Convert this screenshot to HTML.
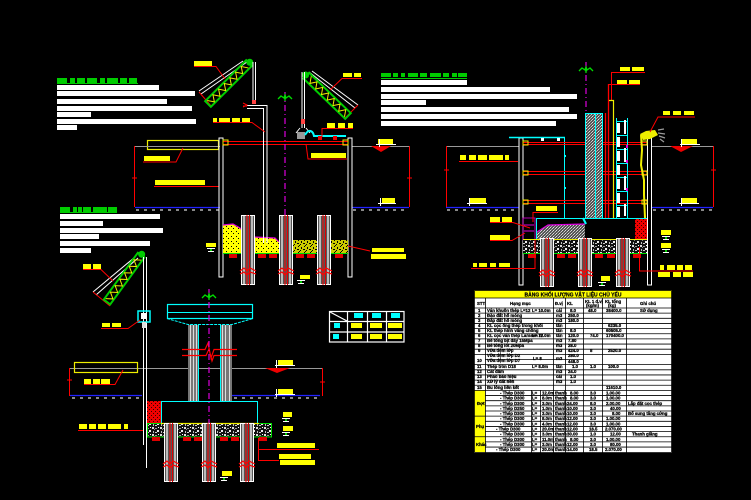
<!DOCTYPE html>
<html><head><meta charset="utf-8"><style>
html,body{margin:0;padding:0;background:#000;width:751px;height:500px;overflow:hidden;}
svg{display:block;}
</style></head><body>
<svg width="751" height="500" viewBox="0 0 751 500" xmlns="http://www.w3.org/2000/svg" xmlns:xlink="http://www.w3.org/1999/xlink" font-family="Liberation Sans, sans-serif">
<defs>
 <pattern id="grav" width="8" height="7" patternUnits="userSpaceOnUse">
  <rect width="8" height="7" fill="#111"/>
  <rect x="0" y="0" width="2" height="2" fill="#ddd"/>
  <rect x="3" y="1" width="2" height="1" fill="#999"/>
  <rect x="5" y="3" width="2" height="2" fill="#eee"/>
  <rect x="1" y="4" width="1" height="2" fill="#bbb"/>
  <rect x="6" y="0" width="1" height="1" fill="#fff"/>
  <rect x="3" y="5" width="2" height="1" fill="#ccc"/>
  <rect x="2" y="2" width="1" height="1" fill="#888"/>
 </pattern>
 <pattern id="ygrav" width="6" height="6" patternUnits="userSpaceOnUse">
  <rect width="6" height="6" fill="#cc0"/>
  <rect x="1" y="1" width="1" height="2" fill="#000"/>
  <rect x="4" y="0" width="1" height="1" fill="#000"/>
  <rect x="3" y="3" width="2" height="1" fill="#000"/>
  <rect x="0" y="4" width="1" height="1" fill="#000"/>
  <rect x="5" y="5" width="1" height="1" fill="#000"/>
 </pattern>
 <pattern id="ysoil" width="5" height="5" patternUnits="userSpaceOnUse">
  <rect width="5" height="5" fill="#ff0"/>
  <rect x="1" y="1" width="1" height="1" fill="#000"/>
  <rect x="3" y="3" width="1" height="1" fill="#000"/>
 </pattern>
 <pattern id="hatch" width="3" height="3" patternUnits="userSpaceOnUse">
  <rect width="3" height="3" fill="#555"/>
  <rect x="0" y="0" width="1" height="1" fill="#ccc"/>
  <rect x="2" y="1" width="1" height="1" fill="#aaa"/>
  <rect x="1" y="2" width="1" height="1" fill="#ddd"/>
 </pattern>
 <pattern id="redf" width="4" height="4" patternUnits="userSpaceOnUse">
  <rect width="4" height="4" fill="#e00"/>
  <rect x="1" y="1" width="1" height="1" fill="#300"/>
  <rect x="3" y="3" width="1" height="1" fill="#300"/>
 </pattern>
 <g id="boom">
  <rect x="0" y="-4" width="58" height="8" fill="none" stroke="#0c0" stroke-width="2"/>
  <polyline points="2,-3 6,3 10,-3 14,3 18,-3 22,3 26,-3 30,3 34,-3 38,3 42,-3 46,3 50,-3 54,3" fill="none" stroke="#ee0" stroke-width="1"/>
  <circle cx="59" cy="0" r="3.5" fill="#0c0"/>
 </g>
 <g id="palm">
  <path d="M-7,3 L-4,0 L-1,2 L0,-1 L1,2 L4,0 L7,3 M0,-1 L0,5" fill="none" stroke="#0d0" stroke-width="1.3"/>
 </g>
 <g id="mark">
  <path d="M0,0.5h8M4,0.5v3M1,3.5h6" stroke="#fff" stroke-width="1" fill="none"/>
  <rect x="3" y="1" width="2" height="2" fill="#0c0"/>
 </g>
 <g id="pileA">
  <rect x="0.5" y="0.5" width="13" height="69" fill="#555" stroke="#fff"/>
  <rect x="2" y="1" width="2" height="68" fill="#bbb"/>
  <rect x="10" y="1" width="2" height="68" fill="#bbb"/>
  <line x1="6" y1="0" x2="6" y2="70" stroke="#f00"/>
  <line x1="8.5" y1="0" x2="8.5" y2="70" stroke="#d00"/>
  <polyline points="-1,56 3,53 6,56 9,53 15,56" fill="none" stroke="#f00" stroke-width="1.2"/>
  <polyline points="-1,59 3,57 6,60 9,57 15,59" fill="none" stroke="#f00" stroke-width="1.2"/>
 </g>
 <g id="pileB">
  <rect x="0.5" y="0.5" width="13" height="48" fill="#555" stroke="#fff"/>
  <rect x="2" y="1" width="2" height="47" fill="#bbb"/>
  <rect x="10" y="1" width="2" height="47" fill="#bbb"/>
  <line x1="6" y1="0" x2="6" y2="49" stroke="#f00"/>
  <line x1="8.5" y1="0" x2="8.5" y2="49" stroke="#d00"/>
  <polyline points="-1,35 3,32 6,35 9,32 15,35" fill="none" stroke="#f00" stroke-width="1.2"/>
  <polyline points="-1,38 3,36 6,39 9,36 15,38" fill="none" stroke="#f00" stroke-width="1.2"/>
 </g>
 <g id="pileC">
  <rect x="0.5" y="0.5" width="13" height="58" fill="#555" stroke="#fff"/>
  <rect x="2" y="1" width="2" height="57" fill="#bbb"/>
  <rect x="10" y="1" width="2" height="57" fill="#bbb"/>
  <line x1="6" y1="0" x2="6" y2="59" stroke="#f00"/>
  <line x1="8.5" y1="0" x2="8.5" y2="59" stroke="#d00"/>
  <polyline points="-1,41 3,38 6,41 9,38 15,41" fill="none" stroke="#f00" stroke-width="1.2"/>
  <polyline points="-1,44 3,42 6,45 9,42 15,44" fill="none" stroke="#f00" stroke-width="1.2"/>
 </g>
</defs>

<rect width="751" height="500" fill="#000"/>

<!-- ===== NOTES BLOCKS ===== -->
<g fill="#0c0">
 <rect x="57" y="78" width="10" height="5"/><rect x="70" y="78" width="5" height="5"/><rect x="77" y="78" width="8" height="5"/><rect x="87" y="78" width="10" height="5"/><rect x="100" y="78" width="5" height="5"/><rect x="107" y="78" width="11" height="5"/><rect x="120" y="78" width="7" height="5"/><rect x="129" y="78" width="8" height="5"/>
 <rect x="57" y="83" width="81" height="1"/>
 <rect x="60" y="207" width="10" height="5"/><rect x="73" y="207" width="4" height="5"/><rect x="78" y="207" width="4" height="5"/><rect x="83" y="207" width="8" height="5"/><rect x="93" y="207" width="14" height="5"/><rect x="108" y="207" width="9" height="5"/>
 <rect x="60" y="212" width="57" height="1"/>
 <rect x="381" y="73" width="10" height="4"/><rect x="393" y="73" width="5" height="4"/><rect x="401" y="73" width="4" height="4"/><rect x="408" y="73" width="10" height="4"/><rect x="420" y="73" width="7" height="4"/><rect x="430" y="73" width="11" height="4"/><rect x="443" y="73" width="6" height="4"/><rect x="452" y="73" width="5" height="4"/><rect x="458" y="73" width="9" height="4"/>
 <rect x="381" y="78" width="86" height="1"/>
</g>
<g fill="#fff">
 <rect x="57" y="85" width="102" height="5"/><rect x="57" y="91" width="138" height="5"/><rect x="57" y="99" width="110" height="5"/><rect x="57" y="106" width="135" height="5"/><rect x="57" y="112" width="34" height="5"/><rect x="57" y="119" width="139" height="5"/><rect x="57" y="125" width="20" height="5"/>
 <rect x="60" y="214" width="100" height="5"/><rect x="60" y="221" width="43" height="5"/><rect x="60" y="228" width="103" height="5"/><rect x="60" y="234" width="39" height="5"/><rect x="60" y="241" width="90" height="5"/><rect x="60" y="248" width="31" height="5"/>
 <rect x="381" y="80" width="86" height="5"/><rect x="381" y="87" width="169" height="5"/><rect x="381" y="94" width="196" height="5"/><rect x="381" y="100" width="45" height="5"/><rect x="381" y="107" width="188" height="5"/><rect x="381" y="114" width="196" height="5"/><rect x="381" y="121" width="175" height="5"/>
</g>

<!-- ===== LEFT TOP SECTION ===== -->
<line x1="135" y1="146.5" x2="220" y2="146.5" stroke="#999"/>
<line x1="352" y1="146.5" x2="409" y2="146.5" stroke="#999"/>
<path d="M134.5,146 V207 M409.5,146 V207" stroke="#f00"/>
<path d="M132,178h5 M407,178h5" stroke="#f00"/>
<line x1="135" y1="207.5" x2="220" y2="207.5" stroke="#22f" stroke-width="1.2"/>
<line x1="352" y1="207.5" x2="409" y2="207.5" stroke="#22f" stroke-width="1.2"/>
<line x1="136" y1="210" x2="220" y2="210" stroke="#888" stroke-width="2" stroke-dasharray="3 5"/>
<line x1="353" y1="210" x2="409" y2="210" stroke="#888" stroke-width="2" stroke-dasharray="3 5"/>
<polygon points="371,146 391,146 381,152" fill="#e00"/>
<rect x="378" y="139" width="15" height="5" fill="#ff0"/>
<path d="M376,144.5h20 M379.5,139v8" stroke="#fff"/>
<rect x="147.5" y="140.5" width="71" height="9" fill="none" stroke="#ee0" stroke-width="1.2"/>
<line x1="147" y1="146.5" x2="218" y2="146.5" stroke="#999"/>
<path d="M183,148 L176,162 L143,162" fill="none" stroke="#f00"/>
<rect x="144" y="156" width="26" height="5" fill="#ff0"/>
<rect x="155" y="180" width="50" height="5" fill="#ff0"/>
<path d="M154,186.5 H219" stroke="#f00"/>
<rect x="219" y="138" width="4" height="139" fill="none" stroke="#fff" stroke-width="1"/>
<rect x="348" y="138" width="4" height="139" fill="none" stroke="#fff" stroke-width="1"/>
<path d="M223,141.5H348 M223,144.5H348" stroke="#f00"/>
<rect x="223" y="140" width="5" height="5" fill="none" stroke="#ee0"/>
<rect x="343" y="140" width="5" height="5" fill="none" stroke="#ee0"/>
<line x1="285" y1="92" x2="285" y2="216" stroke="#d0d" stroke-width="1.2" stroke-dasharray="6 3 1 3"/>
<use xlink:href="#palm" transform="translate(285,96)"/>
<path d="M223,225 L233,224 L240,228 L247,235 L255,237 L275,238 L279,242 L279,253 L223,253 Z" fill="url(#ysoil)"/>
<path d="M223,225 L233,224 L240,228 L247,235 L255,237 L275,238 L279,242" fill="none" stroke="#d0d" stroke-width="1.2"/>
<rect x="293" y="240" width="55" height="13" fill="url(#ygrav)"/>
<line x1="223" y1="253.5" x2="348" y2="253.5" stroke="#0d0"/>
<g fill="#d00"><rect x="229" y="254" width="8" height="4"/><rect x="258" y="254" width="8" height="4"/><rect x="269" y="254" width="8" height="4"/><rect x="296" y="254" width="8" height="4"/><rect x="307" y="254" width="8" height="4"/><rect x="335" y="254" width="8" height="4"/></g>
<use xlink:href="#pileA" x="241" y="215"/>
<use xlink:href="#pileA" x="279" y="215"/>
<use xlink:href="#pileA" x="317" y="215"/>
<rect x="206" y="243" width="10" height="4" fill="#ff0"/><use xlink:href="#mark" x="207" y="248"/>
<rect x="300" y="275" width="10" height="4" fill="#ff0"/><use xlink:href="#mark" x="297" y="280"/>
<path d="M348,246 L370,251" stroke="#f00"/>
<rect x="372" y="248" width="32" height="4" fill="#ff0"/>
<rect x="371" y="254" width="35" height="5" fill="#ff0"/>
<path d="M199,91 L243,61 M201,94 L247,62" stroke="#fff" stroke-width="1"/>
<path d="M199,92 L212,107" stroke="#f00"/>
<use xlink:href="#boom" transform="translate(208,104) rotate(-45)"/>
<path d="M253,62 V102 M255.5,62 V102" stroke="#fff"/>
<rect x="252" y="100" width="4" height="4" fill="#f44"/>
<path d="M247,105.5 H267 M247,108.5 H263.5 M263.5,108 V243 M267,105 V243" stroke="#fff" fill="none"/>
<path d="M243,103 l4,2 l-4,2 M243,106 h4" stroke="#f00" fill="none"/>
<rect x="194" y="61" width="18" height="5" fill="#ff0"/>
<path d="M194,66.5 H216 L225,79" stroke="#f00" fill="none"/>
<g fill="#ff0"><rect x="213" y="118" width="4" height="4"/><rect x="219" y="118" width="11" height="4"/><rect x="232" y="118" width="8" height="4"/><rect x="242" y="118" width="8" height="4"/></g>
<path d="M213,122.5 H252 L265,132" stroke="#f00" fill="none"/>
<path d="M312,71 L358,105 M309,72 L355,108" stroke="#fff"/>
<path d="M358,105 L345,118" stroke="#f00"/>
<use xlink:href="#boom" transform="translate(348,116) rotate(-136)"/>
<path d="M302,72 V128 M304.5,72 V128" stroke="#fff"/>
<rect x="301" y="119" width="4" height="5" fill="#f44"/>
<path d="M300,128 l-4,5 M306,128 l4,5" stroke="#fff"/>
<rect x="297" y="132" width="8" height="7" fill="#999"/>
<path d="M305,135 C309,128 313,131 314,136 L346,136" fill="none" stroke="#0ff" stroke-width="2"/>
<rect x="318" y="136" width="4" height="4" fill="#e00"/><rect x="333" y="136" width="4" height="4" fill="#e00"/>
<g fill="#ff0"><rect x="343" y="73" width="9" height="4"/><rect x="354" y="73" width="7" height="4"/></g>
<path d="M362,78.5 H342 L330,90" stroke="#f00" fill="none"/>
<g fill="#ff0"><rect x="327" y="123" width="8" height="5"/><rect x="338" y="123" width="7" height="5"/><rect x="348" y="123" width="5" height="5"/></g>
<path d="M353,128.5 H322 V137" stroke="#f00" fill="none"/>
<rect x="311" y="153" width="35" height="5" fill="#ff0"/>
<path d="M306,144 L308,159 H347" stroke="#f00" fill="none"/>

<!-- ===== RIGHT TOP SECTION ===== -->
<line x1="446" y1="146.5" x2="519" y2="146.5" stroke="#999"/>
<line x1="652" y1="146.5" x2="713" y2="146.5" stroke="#999"/>
<path d="M446.5,146 V207 M713.5,146 V207" stroke="#f00"/>
<path d="M444,170h5 M711,170h5" stroke="#f00"/>
<line x1="446" y1="207.5" x2="519" y2="207.5" stroke="#22f" stroke-width="1.2"/>
<line x1="652" y1="207.5" x2="713" y2="207.5" stroke="#22f" stroke-width="1.2"/>
<line x1="447" y1="210" x2="519" y2="210" stroke="#888" stroke-width="2" stroke-dasharray="3 5"/>
<line x1="653" y1="210" x2="713" y2="210" stroke="#888" stroke-width="2" stroke-dasharray="3 5"/>
<polygon points="670,146 693,146 681,152" fill="#e00"/>
<rect x="682" y="139" width="15" height="5" fill="#ff0"/>
<path d="M680,144.5h20 M681.5,139v8" stroke="#fff"/>
<rect x="382" y="198" width="13" height="5" fill="#ff0"/><path d="M378,203.5h18 M380.5,198v8" stroke="#fff"/>
<rect x="470" y="198" width="16" height="5" fill="#ff0"/><path d="M467,203.5h20 M469.5,198v8" stroke="#fff"/>
<rect x="682" y="198" width="15" height="5" fill="#ff0"/><path d="M679,203.5h20 M681.5,198v8" stroke="#fff"/>
<g fill="#ff0"><rect x="460" y="155" width="6" height="5"/><rect x="469" y="155" width="7" height="5"/><rect x="478" y="155" width="9" height="5"/><rect x="489" y="155" width="14" height="5"/><rect x="505" y="155" width="4" height="5"/></g>
<path d="M459,161.5 H518" stroke="#f00"/>
<rect x="519" y="138" width="4" height="147" fill="none" stroke="#fff"/>
<rect x="647.5" y="138" width="4" height="147" fill="none" stroke="#fff"/>
<line x1="509" y1="137.5" x2="565" y2="137.5" stroke="#0ff" stroke-width="1.5"/>
<rect x="541" y="138" width="3" height="3" fill="#fff"/><rect x="557" y="138" width="3" height="3" fill="#fff"/>
<line x1="564.5" y1="138" x2="564.5" y2="218" stroke="#0ff"/>
<g fill="#0ff"><rect x="564" y="155" width="2" height="2"/><rect x="564" y="187" width="2" height="2"/></g>
<path d="M523,142.5H647 M523,144.5H647 M523,171.5H647 M523,174.5H647 M523,200.5H647 M523,203.5H647" stroke="#f00"/>
<g fill="none" stroke="#ee0"><rect x="523" y="141" width="5" height="4"/><rect x="523" y="171" width="5" height="4"/><rect x="523" y="200" width="5" height="4"/><rect x="642" y="141" width="5" height="4"/><rect x="642" y="171" width="5" height="4"/><rect x="642" y="200" width="5" height="4"/></g>
<rect x="585" y="113" width="18" height="105" fill="url(#hatch)"/>
<path d="M585,113.5 H603 M585.5,113 V218 M595.5,113 V218 M602.5,113 V218" stroke="#0ff"/>
<path d="M605.5,113 V218 M608.5,84 V218" stroke="#f00" stroke-width="1.3"/>
<path d="M611.5,72 V100" stroke="#f00"/>
<path d="M609,100.5 H613.5 V218" stroke="#ee0" stroke-width="1.2" fill="none"/>
<line x1="586" y1="62" x2="586" y2="113" stroke="#d0d" stroke-width="1.2" stroke-dasharray="6 3 1 3"/>
<use xlink:href="#palm" transform="translate(586,68)"/>
<g stroke="#0ff" fill="none">
 <path d="M616.5,118 V218 M627.5,118 V218"/>
 <path d="M616,121.5H627 M616,135.5H627 M616,149.5H627 M616,163.5H627 M616,177.5H627 M616,191.5H627 M616,205.5H627"/>
</g>
<g fill="#fff"><rect x="617" y="123" width="3" height="10"/><rect x="617" y="137" width="3" height="10"/><rect x="617" y="151" width="3" height="10"/><rect x="617" y="165" width="3" height="10"/><rect x="617" y="179" width="3" height="10"/><rect x="617" y="193" width="3" height="10"/><rect x="617" y="207" width="3" height="10"/>
<rect x="624" y="120" width="2" height="14"/><rect x="624" y="148" width="2" height="14"/><rect x="624" y="176" width="2" height="14"/><rect x="624" y="204" width="2" height="12"/></g>
<g fill="#d0d"><rect x="626" y="145" width="2" height="3"/><rect x="626" y="160" width="2" height="3"/><rect x="626" y="188" width="2" height="3"/></g>
<path d="M641,135 L642,150 L641,165 L644,180 L644,195 L645,218" fill="none" stroke="#ee0" stroke-width="2"/>
<path d="M640,134 L646,131 L655,130 L658,135 L650,139 L643,140 Z" fill="#ee0"/>
<path d="M658,130 l6,-1 M658,133 l7,1 M659,136 l6,2 M660,139 l4,3" stroke="#999" stroke-width="1.2"/>
<path d="M650,132 L658,117 H695" stroke="#f00" fill="none"/>
<g fill="#ff0"><rect x="663" y="111" width="7" height="4"/><rect x="673" y="111" width="8" height="4"/><rect x="684" y="111" width="10" height="4"/></g>
<g fill="#ff0"><rect x="620" y="67" width="10" height="4"/><rect x="632" y="67" width="12" height="4"/></g>
<path d="M611,72.5 H645" stroke="#f00"/>
<g fill="#ff0"><rect x="617" y="80" width="10" height="4"/><rect x="629" y="80" width="11" height="4"/></g>
<path d="M608,84.5 H640" stroke="#f00"/>
<path d="M537,232 L548,225 L585,224 L585,240 L537,240 Z" fill="url(#hatch)"/>
<path d="M537,232 L548,225 L585,224" fill="none" stroke="#d0d" stroke-width="1.2"/>
<rect x="536.5" y="218.5" width="110" height="21.5" fill="none" stroke="#0ff"/>
<rect x="635" y="219" width="12" height="21" fill="url(#redf)"/>
<path d="M583,218 L586,224" stroke="#0ff" stroke-width="2"/>
<rect x="523" y="218" width="12" height="22" fill="none" stroke="#d0d" stroke-width="0.8"/>
<path d="M524,225h10 M524,231h10" stroke="#d0d"/>
<rect x="523" y="240" width="124" height="13" fill="url(#grav)"/>
<line x1="523" y1="239.5" x2="647" y2="239.5" stroke="#ee0"/>
<line x1="523" y1="253.5" x2="647" y2="253.5" stroke="#0d0"/>
<g fill="#d00"><rect x="528" y="254" width="8" height="4"/><rect x="557" y="254" width="8" height="4"/><rect x="568" y="254" width="8" height="4"/><rect x="595" y="254" width="8" height="4"/><rect x="607" y="254" width="8" height="4"/><rect x="633" y="254" width="8" height="4"/></g>
<use xlink:href="#pileB" x="540" y="238"/>
<use xlink:href="#pileB" x="578" y="238"/>
<use xlink:href="#pileB" x="616" y="238"/>
<rect x="536" y="206" width="21" height="5" fill="#ff0"/>
<path d="M533,212.5 H558 M533,212 V222" stroke="#f00" fill="none"/>
<g fill="#ff0"><rect x="490" y="217" width="10" height="5"/><rect x="502" y="217" width="10" height="5"/></g>
<path d="M490,222.5 H513 L530,228" stroke="#f00" fill="none"/>
<rect x="490" y="235" width="20" height="5" fill="#ff0"/>
<path d="M490,240.5 H512 L525,233" stroke="#f00" fill="none"/>
<g fill="#ff0"><rect x="473" y="263" width="4" height="4"/><rect x="479" y="263" width="8" height="4"/><rect x="490" y="263" width="6" height="4"/><rect x="499" y="263" width="11" height="4"/></g>
<path d="M471,268.5 H535 V240" stroke="#f00" fill="none"/>
<rect x="661" y="230" width="10" height="5" fill="#ff0"/><use xlink:href="#mark" x="662" y="236"/>
<rect x="661" y="243" width="10" height="5" fill="#ff0"/><use xlink:href="#mark" x="662" y="249"/>
<path d="M639.5,247 V271 H693" stroke="#f00" fill="none"/>
<g fill="#ff0"><rect x="660" y="265" width="4" height="5"/><rect x="667" y="265" width="8" height="5"/><rect x="677" y="265" width="6" height="5"/><rect x="685" y="265" width="7" height="5"/>
<rect x="658" y="272" width="12" height="5"/><rect x="673" y="272" width="8" height="5"/><rect x="683" y="272" width="10" height="5"/></g>
<rect x="601" y="276" width="9" height="5" fill="#ff0"/><use xlink:href="#mark" x="598" y="282"/>

<!-- ===== BOTTOM LEFT PIER SECTION ===== -->
<line x1="70" y1="368.5" x2="322" y2="368.5" stroke="#999"/>
<path d="M69.5,368 V396 M322.5,368 V396" stroke="#f00"/>
<path d="M67,380h5 M320,382h5" stroke="#f00"/>
<line x1="70" y1="395.5" x2="142" y2="395.5" stroke="#22f" stroke-width="1.2"/>
<line x1="232" y1="395.5" x2="320" y2="395.5" stroke="#22f" stroke-width="1.2"/>
<line x1="72" y1="398" x2="142" y2="398" stroke="#888" stroke-width="2" stroke-dasharray="3 5"/>
<line x1="234" y1="398" x2="320" y2="398" stroke="#888" stroke-width="2" stroke-dasharray="3 5"/>
<polygon points="265,368 290,368 277,373" fill="#e00"/>
<rect x="278" y="360" width="15" height="5" fill="#ff0"/><path d="M275,365.5h20 M276.5,360v8" stroke="#fff"/>
<rect x="278" y="389" width="15" height="5" fill="#ff0"/><path d="M275,394.5h20 M276.5,389v8" stroke="#fff"/>
<rect x="74.5" y="362.5" width="63" height="10" fill="none" stroke="#ee0" stroke-width="1.2"/>
<g fill="#ff0"><rect x="84" y="379" width="7" height="5"/><rect x="93" y="379" width="7" height="5"/><rect x="101" y="379" width="9" height="5"/></g>
<path d="M84,384.5 H115 L123,370" stroke="#f00" fill="none"/>
<rect x="167.5" y="304.5" width="85" height="14" fill="none" stroke="#0ff" stroke-width="1.2"/>
<line x1="167" y1="312.5" x2="253" y2="312.5" stroke="#0ff"/>
<path d="M167,318.5 L188,324.5 H232 L253,318.5" fill="none" stroke="#0ff" stroke-dasharray="3 1"/>
<rect x="188" y="325" width="10" height="76" fill="#777"/>
<rect x="220" y="325" width="12" height="76" fill="#777"/>
<g stroke="#ddd"><path d="M190.5,325V401 M193.5,325V401 M196.5,325V401 M222.5,325V401 M225.5,325V401 M229.5,325V401"/></g>
<path d="M198.5,324 V401 M220.5,324 V401" stroke="#0ff"/>
<path d="M182,349.5 H205 L208,343 L211,358 L214,349.5 H237 M182,355.5 H206 L209,349 L212,361 L214,355.5 H237" fill="none" stroke="#f00" stroke-width="1.2"/>
<line x1="209" y1="289" x2="209" y2="483" stroke="#d0d" stroke-width="1.2" stroke-dasharray="6 3 1 3"/>
<use xlink:href="#palm" transform="translate(209,295)"/>
<rect x="161.5" y="401.5" width="96" height="22" fill="none" stroke="#0ff"/>
<rect x="147" y="401" width="14" height="22" fill="url(#redf)"/>
<rect x="147" y="423" width="125" height="14" fill="url(#grav)"/>
<rect x="147.5" y="423.5" width="124" height="13.5" fill="none" stroke="#0d0"/>
<line x1="161" y1="423.5" x2="259" y2="423.5" stroke="#ee0" stroke-width="1.3"/>
<g fill="#d00"><rect x="152" y="437" width="8" height="4"/><rect x="183" y="437" width="8" height="4"/><rect x="194" y="437" width="8" height="4"/><rect x="220" y="437" width="8" height="4"/><rect x="231" y="437" width="8" height="4"/><rect x="259" y="437" width="8" height="4"/></g>
<use xlink:href="#pileC" x="164" y="423"/>
<use xlink:href="#pileC" x="202" y="423"/>
<use xlink:href="#pileC" x="240" y="423"/>
<path d="M93,292 L135,257 M96,295 L138,258" stroke="#fff"/>
<path d="M93,292 L110,306" stroke="#f00"/>
<use xlink:href="#boom" transform="translate(107,302) rotate(-54)"/>
<path d="M143.5,257 V445 M146.5,257 V468" stroke="#fff"/>
<rect x="138" y="311" width="12" height="11" fill="none" stroke="#0ff" stroke-width="1.5"/>
<rect x="141" y="313" width="5" height="6" fill="#fff"/>
<rect x="142" y="322" width="4" height="6" fill="#ddd"/>
<g fill="#ff0"><rect x="83" y="264" width="8" height="5"/><rect x="93" y="264" width="8" height="5"/></g>
<path d="M83,269.5 H101 L113,281" stroke="#f00" fill="none"/>
<g fill="#ff0"><rect x="102" y="323" width="8" height="4"/><rect x="112" y="323" width="9" height="4"/></g>
<path d="M101,328.5 H128 L140,320" stroke="#f00" fill="none"/>
<g fill="#ff0"><rect x="79" y="424" width="8" height="5"/><rect x="89" y="424" width="7" height="5"/><rect x="98" y="424" width="8" height="5"/><rect x="108" y="424" width="13" height="5"/><rect x="124" y="424" width="4" height="5"/></g>
<path d="M78,430.5 H143" stroke="#f00"/>
<rect x="283" y="412" width="9" height="5" fill="#ff0"/><use xlink:href="#mark" x="282" y="418"/>
<rect x="283" y="426" width="10" height="5" fill="#ff0"/><use xlink:href="#mark" x="282" y="432"/>
<rect x="277" y="443" width="38" height="5" fill="#ff0"/>
<path d="M258,449.5 H319 M258.5,438 V460.5 H279" stroke="#f00" fill="none"/>
<rect x="279" y="454" width="32" height="5" fill="#ff0"/>
<rect x="280" y="460" width="35" height="5" fill="#ff0"/>
<rect x="222" y="471" width="10" height="5" fill="#ff0"/><use xlink:href="#mark" x="220" y="477"/>

<!-- small legend table -->
<g stroke="#fff" stroke-width="1.2" fill="none">
 <rect x="329.5" y="311.5" width="74.5" height="30.5"/>
 <path d="M347.5,311V342 M367.5,311V342 M386.5,311V342 M329,321.5H404 M329,332H404 M330,312 L347,321"/>
</g>
<g fill="#0ff"><rect x="354" y="313" width="9" height="5"/><rect x="372" y="313" width="9" height="5"/><rect x="391" y="313" width="9" height="5"/><rect x="334" y="323" width="6" height="5"/><rect x="333" y="334" width="6" height="5"/></g>
<g fill="#ff0"><rect x="351" y="323" width="11" height="5"/><rect x="370" y="323" width="12" height="5"/><rect x="388" y="323" width="14" height="5"/><rect x="351" y="334" width="11" height="5"/><rect x="370" y="334" width="12" height="5"/><rect x="388" y="334" width="14" height="5"/></g>

<!-- ===== QUANTITY TABLE ===== -->
<rect x="474" y="290" width="198" height="163" fill="#fff"/>
<rect x="474" y="290" width="198" height="8" fill="#ff0"/>
<text x="573" y="296.5" font-size="5" font-weight="bold" text-anchor="middle" fill="#000" stroke="#000" stroke-width="0.2">BẢNG KHỐI LƯỢNG VẬT LIỆU CHỦ YẾU</text>
<rect x="474" y="390.4" width="11" height="62" fill="#ff0"/>
<g stroke="#000" stroke-width="0.8" fill="none">
 <rect x="474.5" y="290.5" width="197" height="162"/>
 <path d="M474,298H672 M474,308H672 M474,313.15H672 M474,318.3H672 M474,323.45H672 M474,328.6H672 M474,333.75H672 M474,338.9H672 M474,344.05H672 M474,349.2H672 M474,354.35H672 M485,359.5H583 M474,364.65H672 M474,369.8H672 M474,374.95H672 M474,380.1H672 M474,385.25H672 M474,390.4H672"/>
 <path d="M485,395.55H672 M485,400.7H672 M485,405.85H672 M485,411H672 M474,416.15H672 M485,421.3H672 M485,426.45H672 M485,431.6H672 M474,436.75H672 M485,441.9H672 M485,447.05H672"/>
 <path d="M485.5,298V453 M553.5,298V453 M565.5,298V453 M583.5,298V453 M602.5,298V453 M626.5,298V453 M531.5,390V453 M540.5,390V453"/>
</g>
<g font-size="4.3" font-weight="bold" fill="#000" stroke="#000" stroke-width="0.25">
 <text x="477" y="305">STT</text><text x="510" y="305">Hạng mục</text><text x="555" y="305">Đ.vị</text><text x="567" y="305">KL</text><text x="585" y="303">KL 1 đ.vị</text><text x="586" y="307">(kg/m)</text><text x="605" y="303">KL tổng</text><text x="608" y="307">(kg)</text><text x="640" y="305">Ghi chú</text>
 <text x="478" y="312">1</text><text x="487" y="312">Ván khuôn thép L=12</text><text x="532" y="312">L= 10.0m</text><text x="556" y="312">cái</text><text x="570" y="312">8.0</text><text x="588" y="312">48.0</text><text x="606" y="312">38400.0</text><text x="640" y="312">Sử dụng</text>
 <text x="478" y="317">2</text><text x="487" y="317">Đào đất hố móng</text><text x="556" y="317">m3</text><text x="568" y="317">250.0</text>
 <text x="478" y="322">3</text><text x="487" y="322">Đắp đất hố móng</text><text x="556" y="322">m3</text><text x="568" y="322">180.0</text>
 <text x="478" y="327">4</text><text x="487" y="327">KL cọc ống thép trong khối</text><text x="556" y="327">tấn</text><text x="608" y="327">6235.0</text>
 <text x="478" y="332">5</text><text x="487" y="332">KL thép hình văng chống</text><text x="556" y="332">tấn</text><text x="570" y="332">8.0</text><text x="606" y="332">60505.0</text>
 <text x="478" y="337">6</text><text x="487" y="337">KL cọc ván thép Larssen IV</text><text x="532" y="337">L= 12.0m</text><text x="556" y="337">tấn</text><text x="568" y="337">120.0</text><text x="590" y="337">74.0</text><text x="606" y="337">170400.0</text>
 <text x="478" y="342">7</text><text x="487" y="342">Bê tông bịt đáy 15Mpa</text><text x="556" y="342">m3</text><text x="568" y="342">7.80</text>
 <text x="478" y="347">8</text><text x="487" y="347">Bê tông lót 20Mpa</text><text x="556" y="347">m3</text><text x="568" y="347">28.0</text>
 <text x="478" y="352">9</text><text x="487" y="352">Vữa đệm lớp</text><text x="556" y="352">m3</text><text x="568" y="352">424.0</text><text x="590" y="352">8</text><text x="608" y="352">2520.0</text>
 <text x="477" y="362">10</text><text x="487" y="357">Vữa đệm lớp D2</text><text x="487" y="362">Vữa đệm lớp D7</text><text x="533" y="360">L= 8</text><text x="556" y="360">m3</text><text x="568" y="357">280.0</text><text x="568" y="363">448.0</text>
 <text x="477" y="368">11</text><text x="487" y="368">Thép tròn D18</text><text x="532" y="368">L= 8.0m</text><text x="556" y="368">tấn</text><text x="572" y="368">1.0</text><text x="590" y="368">1.0</text><text x="608" y="368">100.0</text>
 <text x="477" y="373">12</text><text x="487" y="373">Cát đầm</text><text x="556" y="373">m3</text><text x="568" y="373">24.0</text>
 <text x="477" y="378">13</text><text x="487" y="378">Phao báo hiệu</text><text x="556" y="378">cái</text><text x="570" y="378">1.0</text>
 <text x="477" y="383">14</text><text x="487" y="383">Xử lý đất nền</text><text x="556" y="383">m3</text><text x="570" y="383">1.0</text>
 <text x="477" y="389">15</text><text x="487" y="389">Bu lông liên kết</text><text x="606" y="389">11610.0</text>
 <text x="477" y="405">Đợt</text><text x="476" y="428">Phụ</text><text x="476" y="446">Khác</text>
 <text x="500" y="394.5">- Thép D300</text><text x="532" y="394.5">L=</text><text x="542" y="394.5">12.0m</text><text x="555" y="394.5">thanh</text><text x="570" y="394.5">8.00</text><text x="590" y="394.5">3.0</text><text x="606" y="394.5">1.00.00</text>
 <text x="500" y="399.6">- Thép D300</text><text x="532" y="399.6">L=</text><text x="542" y="399.6">8.0m</text><text x="555" y="399.6">thanh</text><text x="570" y="399.6">8.00</text><text x="590" y="399.6">3.0</text><text x="606" y="399.6">1.00.00</text>
 <text x="500" y="404.8">- Thép D300</text><text x="532" y="404.8">L=</text><text x="542" y="404.8">3.0m</text><text x="555" y="404.8">thanh</text><text x="567" y="404.8">24.00</text><text x="590" y="404.8">8.0</text><text x="606" y="404.8">2.00.00</text><text x="628" y="404.8">Lắp đặt cọc thép</text>
 <text x="500" y="409.9">- Thép D250</text><text x="532" y="409.9">L=</text><text x="542" y="409.9">1.0m</text><text x="555" y="409.9">thanh</text><text x="567" y="409.9">10.00</text><text x="590" y="409.9">3.0</text><text x="610" y="409.9">40.00</text>
 <text x="500" y="415">- Thép D300</text><text x="532" y="415">L=</text><text x="542" y="415">3.0m</text><text x="555" y="415">thanh</text><text x="567" y="415">10.00</text><text x="590" y="415">3.0</text><text x="612" y="415">8.00</text><text x="628" y="415">Bổ sung tăng cứng</text>
 <text x="500" y="420.2">- Thép D300</text><text x="532" y="420.2">L=</text><text x="542" y="420.2">8.0m</text><text x="555" y="420.2">thanh</text><text x="567" y="420.2">12.00</text><text x="590" y="420.2">3.0</text><text x="606" y="420.2">1.00.00</text>
 <text x="500" y="425.3">- Thép D300</text><text x="532" y="425.3">L=</text><text x="542" y="425.3">4.0m</text><text x="555" y="425.3">thanh</text><text x="567" y="425.3">12.00</text><text x="590" y="425.3">3.0</text><text x="606" y="425.3">1.00.00</text>
 <text x="496" y="430.5">- Thép D300</text><text x="532" y="430.5">L=</text><text x="542" y="430.5">20.0m</text><text x="555" y="430.5">thanh</text><text x="567" y="430.5">12.00</text><text x="589" y="430.5">18.5</text><text x="605" y="430.5">2.070.00</text>
 <text x="500" y="435.6">- Thép D300</text><text x="532" y="435.6">L=</text><text x="542" y="435.6">3.0m</text><text x="555" y="435.6">thanh</text><text x="567" y="435.6">30.00</text><text x="590" y="435.6">1.0</text><text x="610" y="435.6">12.00</text><text x="632" y="435.6">Thanh giằng</text>
 <text x="500" y="440.8">- Thép D300</text><text x="532" y="440.8">L=</text><text x="542" y="440.8">11.0m</text><text x="555" y="440.8">thanh</text><text x="570" y="440.8">8.00</text><text x="590" y="440.8">3.0</text><text x="606" y="440.8">1.00.00</text>
 <text x="500" y="445.9">- Thép D300</text><text x="532" y="445.9">L=</text><text x="542" y="445.9">3.0m</text><text x="555" y="445.9">thanh</text><text x="567" y="445.9">12.00</text><text x="590" y="445.9">3.0</text><text x="610" y="445.9">80.00</text>
 <text x="496" y="451">- Thép D300</text><text x="532" y="451">L=</text><text x="542" y="451">20.0m</text><text x="555" y="451">thanh</text><text x="567" y="451">14.00</text><text x="589" y="451">18.5</text><text x="605" y="451">2.070.00</text>
</g>
</svg>
</body></html>
